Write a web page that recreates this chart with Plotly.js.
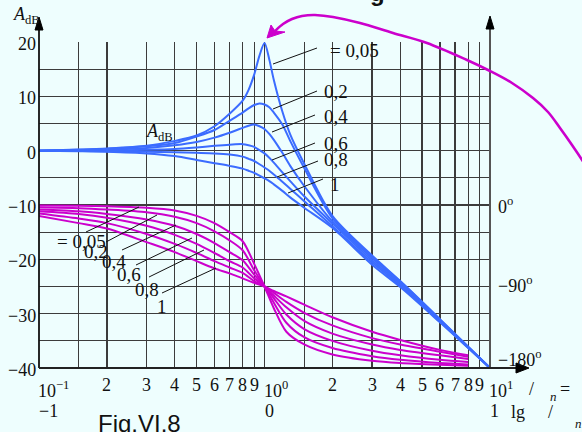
<!DOCTYPE html>
<html><head><meta charset="utf-8">
<script src="https://cdn.plot.ly/plotly-3.0.1.min.js"></script>
<style>html,body{margin:0;padding:0;background:#eefefe;overflow:hidden}</style>
</head><body><div id="chart" style="width:582px;height:432px"></div>
<script>
// ---------- data ----------
const omegaAmp = [0.1,0.15,0.2,0.3,0.4,0.5,0.6,0.7,0.8,0.85,0.9,0.95,1.0,1.05,1.1,1.2,1.3,1.5,2,3,4,6,10];
const amp_005 = [0,0.2,0.4,0.9,1.8,2.8,4.5,6.8,9.2,11.2,14.0,17.5,19.8,16.8,13.0,7.2,3.0,-2.4,-12.0,-19.3,-24.0,-31.0,-40];
const amp_02  = [0,0.15,0.3,0.8,1.4,2.6,3.8,5.5,7.0,7.8,8.4,8.7,8.5,8.0,7.0,4.8,1.8,-3.2,-12.4,-19.5,-24.1,-31.1,-40];
const amp_04  = [0,0.1,0.2,0.5,1.0,1.6,2.4,3.3,4.2,4.6,4.8,4.5,4.0,3.1,2.0,-0.4,-2.8,-6.5,-13.0,-19.8,-24.3,-31.2,-40];
const amp_06  = [0,0,0.05,0.15,0.3,0.6,0.9,1.1,1.2,1.0,0.7,0.1,-0.5,-1.3,-2.2,-4.0,-5.6,-8.4,-13.4,-20.2,-24.5,-31.3,-40];
const amp_08  = [0,-0.05,-0.1,-0.2,-0.3,-0.4,-0.5,-0.7,-1.1,-1.5,-1.9,-2.5,-3.1,-3.7,-4.4,-5.7,-7.0,-9.3,-13.9,-20.6,-24.8,-31.5,-40];
const amp_1   = [0,-0.1,-0.2,-0.5,-1.0,-1.7,-2.3,-2.8,-3.3,-3.7,-4.1,-4.6,-5.1,-5.6,-6.2,-7.4,-8.6,-10.5,-14.2,-21.0,-25.1,-31.6,-40];

const omegaPhase = [0.1,0.15,0.2,0.3,0.4,0.5,0.6,0.7,0.8,0.9,1.0,1.1,1.25,1.5,2,3,4,6,8];
const ph_005 = [-0.5,-0.8,-1.5,-3,-6,-12,-20,-30,-40,-65,-90,-114,-140,-154,-165,-172,-174.5,-176.5,-177.6];
const ph_02  = [-2.5,-3.5,-5,-8,-13,-20,-29,-39,-50,-72,-90,-108,-130,-146,-158,-167,-171,-174.5,-176];
const ph_04  = [-5,-7,-10,-16,-23,-32,-42,-52,-61,-77,-90,-103,-121,-137,-150,-161,-166,-171,-173.5];
const ph_06  = [-7,-10,-14,-23,-33,-43,-53,-62,-69,-81,-90,-100,-113,-128,-142,-154,-160,-166,-170];
const ph_08  = [-9.5,-15,-20,-32,-43,-53,-62,-69,-75,-84,-90,-97,-107,-119,-133,-147,-154,-162,-167.5];
const ph_1   = [-12,-20,-26,-41,-52,-62,-70,-75.5,-81,-86,-90,-95,-101,-110,-124,-140,-149,-160,-166];

const zetaLabels = ['= 0,05','0,2','0,4','0,6','0,8','1'];

const xGridVals = [0.1,0.15,0.2,0.3,0.4,0.5,0.6,0.7,0.8,0.9,1,1.5,2,3,4,5,6,7,8,9,10];
const yGridVals = [-40,-35,-30,-25,-20,-15,-10,-5,0,5,10,15,20];
const yTickVals = [20,10,0,-10,-20,-30,-40];
const yTickText = ['20','10','0','\u221210','\u221220','\u221230','\u221240'];
const xDigitVals = [0.2,0.3,0.4,0.5,0.6,0.7,0.8,0.9,2,3,4,5,6,7,8,9];
const xDigitText = ['2','3','4','5','6','7','8','9','2','3','4','5','6','7','8','9'];
const xDecadeVals = [0.1,1,10];
const xDecadeText = ['10<sup>\u22121</sup>','10<sup>0</sup>','10<sup>1</sup>'];
const xExpText = ['\u22121','0','1'];
const phaseTickVals = [0,-90,-180];
const phaseTickText = ['0<sup>o</sup>','\u221290<sup>o</sup>','\u2212180<sup>o</sup>'];

// ---------- styling / geometry ----------
const BLUE = '#3b6cff', MAG = '#cc00cc', INK = '#111111';
const SERIF = 'Liberation Serif, Times New Roman, serif';
const SANS = 'Liberation Sans, Arial, sans-serif';
const L = 39, T = 42, W = 451, H = 326;
const X = p => (p - L) / W;
const Y = p => (T + H - p) / H;

const ampSeries = [amp_005, amp_02, amp_04, amp_06, amp_08, amp_1];
const phSeries = [ph_005, ph_02, ph_04, ph_06, ph_08, ph_1];

const traces = [];
ampSeries.forEach((s, i) => traces.push({
  x: omegaAmp, y: s, type: 'scatter', mode: 'lines', name: 'A ' + zetaLabels[i],
  line: {color: BLUE, width: 2, shape: 'spline', smoothing: 0.8}, hoverinfo: 'skip'
}));
phSeries.forEach((s, i) => traces.push({
  x: omegaPhase, y: s, yaxis: 'y2', type: 'scatter', mode: 'lines', name: 'phi ' + zetaLabels[i],
  line: {color: MAG, width: 2, shape: 'spline', smoothing: 0.8}, hoverinfo: 'skip'
}));

const annotations = [];
function txt(text, px, py, size, anchor, family) {
  annotations.push({xref: 'paper', yref: 'paper', x: X(px), y: Y(py), text: text,
    showarrow: false, xanchor: anchor || 'left', yanchor: 'middle',
    font: {family: family || SERIF, size: size || 18, color: INK}});
}
yTickVals.forEach((v, i) => annotations.push({xref: 'paper', yref: 'y', x: 0, y: v, xshift: -1, yshift: -2,
  text: yTickText[i], showarrow: false, xanchor: 'right', yanchor: 'middle',
  font: {family: SERIF, size: 18, color: INK}}));
xDigitVals.forEach((v, i) => annotations.push({xref: 'x', yref: 'paper', x: Math.log10(v), y: 0, yshift: -17,
  text: xDigitText[i], showarrow: false, xanchor: 'center', yanchor: 'middle',
  font: {family: SERIF, size: 18, color: INK}}));
xDecadeVals.forEach((v, i) => {
  annotations.push({xref: 'x', yref: 'paper', x: Math.log10(v), y: 0, yshift: -21, xshift: -3,
    text: xDecadeText[i], showarrow: false, xanchor: 'left', yanchor: 'middle',
    font: {family: SERIF, size: 18, color: INK}});
  annotations.push({xref: 'x', yref: 'paper', x: Math.log10(v), y: 0, yshift: -43, xshift: -2,
    text: xExpText[i], showarrow: false, xanchor: 'left', yanchor: 'middle',
    font: {family: SERIF, size: 18, color: INK}});
});
phaseTickVals.forEach((v, i) => annotations.push({xref: 'paper', yref: 'y2', x: 1, y: v, xshift: 6,
  yshift: i === 2 ? 10 : (i === 1 ? 2 : 0),
  text: phaseTickText[i], showarrow: false, xanchor: 'left', yanchor: 'middle',
  font: {family: SERIF, size: 18, color: INK}}));
txt('/', 531, 389, 18, 'center');
txt('<i>n</i>', 553, 396, 13, 'center');
txt('=', 565, 389, 18, 'center');
txt('lg', 518, 412, 18, 'center');
txt('/', 550, 412, 18, 'center');
txt('<i>n</i>', 578, 424, 13, 'center');
txt('<i>A</i><sub>dB</sub>', 11, 15, 18, 'left');
txt('<i>A</i><sub>dB</sub>', 144, 132, 18, 'left');
const ampLabelPos = [[328,51],[322,91],[322,116],[322,143],[322,159],[328,184]];
zetaLabels.forEach((t, i) => txt(t, ampLabelPos[i][0], ampLabelPos[i][1], 19, 'left'));
const phLabelPos = [[55,241],[82,251],[100,261],[115,274],[133,289],[155,306]];
zetaLabels.forEach((t, i) => txt(t, phLabelPos[i][0], phLabelPos[i][1], 19, 'left'));
txt('Fig.VI.8', 96, 424, 24, 'left', SANS);
txt('<b>g</b>', 377, -7, 24, 'center', SANS);

// ---------- shapes: axes, arrows, leader lines ----------
const shapes = [];
function seg(x0, y0, x1, y1, color, width) {
  shapes.push({type: 'line', xref: 'paper', yref: 'paper', x0: X(x0), y0: Y(y0), x1: X(x1), y1: Y(y1),
    line: {color: color, width: width}, layer: 'above'});
}
function poly(pts, color) {
  shapes.push({type: 'path', xref: 'paper', yref: 'paper', layer: 'above',
    path: 'M' + pts.map(p => X(p[0]) + ',' + Y(p[1])).join(' L') + ' Z',
    fillcolor: color, line: {color: color, width: 1}});
}
seg(39, 368, 39, 28, '#111', 1.8);
poly([[39,17],[35,30],[43,30]], '#000');
seg(490, 368, 490, 28, '#555', 2);
poly([[490,16],[486,29],[494,29]], '#000');
seg(39, 368, 517, 368, '#222', 1.8);
poly([[529,368],[516,363],[516,373]], '#000');

const ampLeaders = [[273,64,317,48],[273,109,317,91],[272,132,315,115],[272,160,315,143],[277,177,318,161],[288,193,323,179]];
ampLeaders.forEach(s => seg(s[0], s[1], s[2], s[3], INK, 1));
const phLeaders = [[86,232,139,207],[106,242,157,215],[122,250,176,225],[136,265,192,238],[149,277,204,250],[162,293,216,268]];
phLeaders.forEach(s => seg(s[0], s[1], s[2], s[3], INK, 1));

const arc = [[275,31],[283,24],[292,19],[302,16],[315,15],[333,17],[360,23],[393,33],[427,43],[467,60],[490,71],[512,83],[533,98],[548,112],[560,128],[572,145],[584,163],[594,180]];
let d = 'M' + X(arc[0][0]) + ',' + Y(arc[0][1]);
for (let i = 0; i < arc.length - 1; i++) {
  const p0 = arc[Math.max(i-1,0)], p1 = arc[i], p2 = arc[i+1], p3 = arc[Math.min(i+2, arc.length-1)];
  const c1 = [p1[0] + (p2[0]-p0[0])/6, p1[1] + (p2[1]-p0[1])/6];
  const c2 = [p2[0] - (p3[0]-p1[0])/6, p2[1] - (p3[1]-p1[1])/6];
  d += ' C' + X(c1[0]) + ',' + Y(c1[1]) + ' ' + X(c2[0]) + ',' + Y(c2[1]) + ' ' + X(p2[0]) + ',' + Y(p2[1]);
}
shapes.push({type: 'path', xref: 'paper', yref: 'paper', path: d, line: {color: MAG, width: 2.6}, layer: 'above'});
poly([[267,38],[271,25],[275,31],[285,32]], MAG);

const layout = {
  width: 582, height: 432,
  margin: {l: L, r: 582 - L - W, t: T, b: 432 - T - H, pad: 0},
  paper_bgcolor: '#eefefe', plot_bgcolor: '#eefefe',
  showlegend: false, hovermode: false,
  xaxis: {type: 'log', range: [-1, 1], tickmode: 'array', tickvals: xGridVals, showticklabels: false,
    ticks: '', showgrid: true, gridcolor: '#3c3c3c', gridwidth: 1.3, zeroline: false, showline: false, fixedrange: true},
  yaxis: {range: [-40, 20], tickmode: 'array', tickvals: yGridVals, showticklabels: false, ticks: '',
    showgrid: true, gridcolor: '#3c3c3c', gridwidth: 1.3, zeroline: false, showline: false, fixedrange: true},
  yaxis2: {range: [-180, 180], overlaying: 'y', side: 'right', visible: false, showgrid: false, fixedrange: true},
  annotations: annotations,
  shapes: shapes
};
Plotly.newPlot('chart', traces, layout, {staticPlot: true, displayModeBar: false});
</script></body></html>
